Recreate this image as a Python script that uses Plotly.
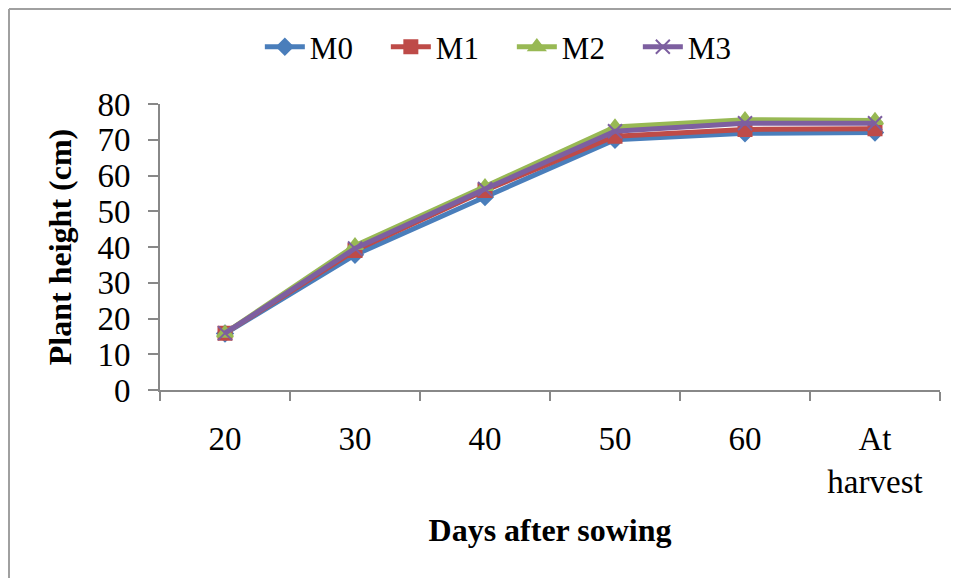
import plotly.graph_objects as go

categories = ["20", "30", "40", "50", "60", "At<br>harvest"]
m0 = [15.8, 37.8, 54.0, 70.0, 71.8, 72.0]
m1 = [15.9, 39.0, 55.8, 71.0, 72.9, 73.1]
m2 = [15.9, 40.4, 56.9, 73.6, 75.6, 75.4]
m3 = [15.9, 39.6, 56.2, 72.4, 74.6, 74.6]

series = [
    ("M0", m0, "#4A7EBB", "diamond", 12),
    ("M1", m1, "#BE4B48", "square", 13),
    ("M2", m2, "#98B954", "triangle-up", 14),
    ("M3", m3, "#7D5FA0", "x-thin", 14),
]

font_family = "Liberation Serif, Times New Roman, serif"

# page has an 8px body margin; figure is sized to fit the 959x578 window
W, H = 951, 570
L, T, R, B = 152, 96, 19, 188
PW, PH = W - L - R, H - T - B

fig = go.Figure()
for name, vals, color, sym, size in series:
    fig.add_trace(go.Scatter(
        x=categories, y=vals, name=name, mode="lines+markers",
        line=dict(color=color, width=5),
        marker=dict(symbol=sym, size=size, color=color,
                    line=dict(color=color, width=2)),
    ))

fig.update_layout(
    width=W, height=H,
    margin=dict(l=L, r=R, t=T, b=B, autoexpand=False),
    paper_bgcolor="white", plot_bgcolor="white",
    font=dict(family=font_family, size=31, color="black"),
    showlegend=True,
    legend=dict(orientation="h", x=0.128, xanchor="left", y=1.199, yanchor="middle",
                font=dict(size=31), itemwidth=40, entrywidth=71, entrywidthmode="pixels",
                tracegroupgap=0, bgcolor="rgba(0,0,0,0)"),
    xaxis=dict(
        type="category", range=[-0.5, 5.5],
        showline=True, linecolor="#888888", linewidth=2,
        ticks="outside", tickson="boundaries", ticklen=9, tickcolor="#888888", tickwidth=2,
        showgrid=False, zeroline=False,
        ticklabelstandoff=18,
        tickfont=dict(size=33),
        title=dict(text="<b>Days after sowing</b>", font=dict(size=32), standoff=20),
    ),
    yaxis=dict(
        range=[0, 80], dtick=10,
        showline=True, linecolor="#888888", linewidth=2,
        ticks="outside", ticklen=10, tickcolor="#888888", tickwidth=2,
        showgrid=False, zeroline=False,
        ticklabelstandoff=11,
        tickfont=dict(size=33),
        title=dict(text="<b>Plant height (cm)</b>", font=dict(size=32), standoff=16),
    ),
    shapes=[
        dict(type="line", xref="paper", yref="paper",
             x0=(1 - L) / PW, x1=(W - L) / PW,
             y0=(H - B - 1) / PH, y1=(H - B - 1) / PH,
             line=dict(color="#A0A0A0", width=2)),
        dict(type="line", xref="paper", yref="paper",
             x0=(1 - L) / PW, x1=(1 - L) / PW,
             y0=(H - B - 1) / PH, y1=(H - B - H) / PH,
             line=dict(color="#A0A0A0", width=2)),
    ],
)

fig.write_html("out.html")
